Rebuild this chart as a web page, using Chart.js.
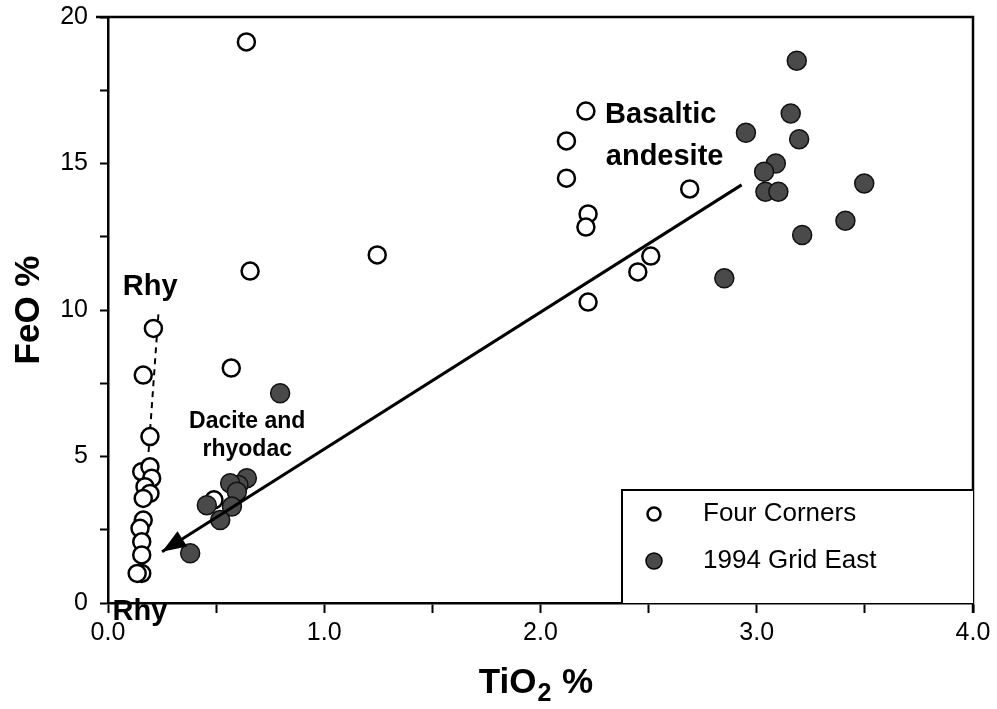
<!DOCTYPE html>
<html>
<head>
<meta charset="utf-8">
<script src="https://cdn.jsdelivr.net/npm/chart.js@4.4.0/dist/chart.umd.min.js"></script>
<style>
  body { margin: 0; background: #fff; }
  canvas { display: block; }
</style>
</head>
<body>
<canvas id="chart" width="997" height="709"></canvas>
<script>
// Four Corners (cercles ouverts)
var fourCornersX = [0.64, 2.21, 2.12, 2.12, 2.69, 2.22, 2.21, 1.245, 2.51, 0.657, 2.45, 2.22, 0.57,
    0.21, 0.163, 0.194, 0.156, 0.194, 0.202, 0.171, 0.194, 0.163, 0.163, 0.148, 0.156, 0.156, 0.156, 0.135, 0.49];
var fourCornersY = [19.15, 16.79, 15.77, 14.5, 14.13, 13.28, 12.83, 11.88, 11.84, 11.33, 11.3, 10.27, 8.02,
    9.37, 7.78, 5.68, 4.48, 4.65, 4.26, 3.97, 3.74, 3.57, 2.83, 2.55, 2.09, 1.64, 1.01, 1.01, 3.52];

// 1994 Grid East (cercles pleins)
var gridEastX = [3.185, 3.157, 2.95, 3.196, 3.088, 3.034, 3.04, 3.10, 3.497, 3.41, 3.21, 2.85,
    0.796, 0.642, 0.603, 0.565, 0.596, 0.457, 0.573, 0.519, 0.38];
var gridEastY = [18.51, 16.71, 16.05, 15.83, 15.0, 14.72, 14.04, 14.04, 14.32, 13.05, 12.56, 11.08,
    7.16, 4.26, 4.03, 4.09, 3.80, 3.34, 3.29, 2.83, 1.70];

// Tendance (flèche) et ligne pointillée des rhyolites
var trendX = [2.93, 0.25];
var trendY = [14.27, 1.75];
var rhyLineX = [0.233, 0.187];
var rhyLineY = [9.85, 5.1];

// Ticks
var xTickLabels = ['0.0', '1.0', '2.0', '3.0', '4.0'];
var yTickLabels = ['0', '5', '10', '15', '20'];

function toPoints(xs, ys) {
    return xs.map(function (x, i) { return { x: x, y: ys[i] }; });
}

var FONT = '"Liberation Sans", Arial, Helvetica, sans-serif';

// Textes, flèche, cadre et légende
var decorPlugin = {
    id: 'decor',
    afterDatasetsDraw: function (chart) {
        var ctx = chart.ctx;
        var xs = chart.scales.x, ys = chart.scales.y;
        var area = chart.chartArea;
        ctx.save();

        // cadre
        ctx.strokeStyle = '#000';
        ctx.lineWidth = 2.5;
        ctx.beginPath();
        ctx.moveTo(area.left - 12, area.top);
        ctx.lineTo(area.right, area.top);
        ctx.lineTo(area.right, area.bottom + 10);
        ctx.stroke();

        // pointe de flèche
        var meta = chart.getDatasetMeta(2);
        var p0 = meta.data[0], p1 = meta.data[1];
        var ang = Math.atan2(p1.y - p0.y, p1.x - p0.x);
        var len = 24, half = 9;
        ctx.fillStyle = '#000';
        ctx.beginPath();
        ctx.moveTo(p1.x, p1.y);
        ctx.lineTo(p1.x - len * Math.cos(ang) + half * Math.sin(ang), p1.y - len * Math.sin(ang) - half * Math.cos(ang));
        ctx.lineTo(p1.x - len * Math.cos(ang) - half * Math.sin(ang), p1.y - len * Math.sin(ang) + half * Math.cos(ang));
        ctx.closePath();
        ctx.fill();

        // annotations
        ctx.fillStyle = '#000';
        ctx.textAlign = 'center';
        ctx.textBaseline = 'middle';
        ctx.font = 'bold 29px ' + FONT;
        ctx.fillText('Rhy', xs.getPixelForValue(0.195), ys.getPixelForValue(10.8));
        ctx.fillText('Rhy', xs.getPixelForValue(0.148), ys.getPixelForValue(-0.32));
        ctx.font = 'bold 23px ' + FONT;
        ctx.fillText('Dacite and', xs.getPixelForValue(0.644), ys.getPixelForValue(6.18));
        ctx.fillText('rhyodac', xs.getPixelForValue(0.644), ys.getPixelForValue(5.22));
        ctx.font = 'bold 29px ' + FONT;
        ctx.fillText('Basaltic', xs.getPixelForValue(2.556), ys.getPixelForValue(16.66));
        ctx.fillText('andesite', xs.getPixelForValue(2.574), ys.getPixelForValue(15.22));

        // titre de l'axe x avec indice
        ctx.textAlign = 'left';
        ctx.textBaseline = 'alphabetic';
        ctx.font = 'bold 35px ' + FONT;
        var cx = 535;
        var w1 = ctx.measureText('TiO').width;
        ctx.font = 'bold 25px ' + FONT;
        var w2 = ctx.measureText('2').width;
        ctx.font = 'bold 35px ' + FONT;
        var w3 = ctx.measureText(' %').width;
        var sx = cx - (w1 + w2 + w3) / 2;
        ctx.fillText('TiO', sx, 693);
        ctx.font = 'bold 25px ' + FONT;
        ctx.fillText('2', sx + w1 + 1, 701);
        ctx.font = 'bold 35px ' + FONT;
        ctx.fillText(' %', sx + w1 + w2 + 2, 693);

        // légende
        var lx = 622, ly = 490;
        ctx.fillStyle = '#fff';
        ctx.fillRect(lx, ly, area.right - lx, area.bottom - ly);
        ctx.strokeStyle = '#000';
        ctx.lineWidth = 2;
        ctx.beginPath();
        ctx.moveTo(lx, area.bottom);
        ctx.lineTo(lx, ly);
        ctx.lineTo(area.right, ly);
        ctx.stroke();

        ctx.beginPath();
        ctx.arc(654, 514, 6.5, 0, Math.PI * 2);
        ctx.lineWidth = 2.5;
        ctx.stroke();
        ctx.beginPath();
        ctx.arc(654, 561, 8, 0, Math.PI * 2);
        ctx.fillStyle = '#4a4a4a';
        ctx.fill();
        ctx.lineWidth = 1.5;
        ctx.stroke();

        ctx.fillStyle = '#000';
        ctx.textAlign = 'left';
        ctx.textBaseline = 'middle';
        ctx.font = '26px ' + FONT;
        ctx.fillText('Four Corners', 703, 514);
        ctx.fillText('1994 Grid East', 703, 561);

        ctx.restore();
    }
};

var ctx = document.getElementById('chart').getContext('2d');

var myChart = new Chart(ctx, {
    type: 'scatter',
    data: {
        datasets: [{
            label: 'Four Corners',
            data: toPoints(fourCornersX, fourCornersY),
            pointRadius: 8.5,
            pointBackgroundColor: '#fff',
            pointBorderColor: '#000',
            pointBorderWidth: 2.5,
            order: 2
        }, {
            label: '1994 Grid East',
            data: toPoints(gridEastX, gridEastY),
            pointRadius: 9.5,
            pointBackgroundColor: '#4a4a4a',
            pointBorderColor: '#111',
            pointBorderWidth: 1.5,
            order: 1
        }, {
            label: 'trend',
            data: toPoints(trendX, trendY),
            showLine: true,
            borderColor: '#000',
            borderWidth: 3,
            pointRadius: 0,
            order: 0
        }, {
            label: 'rhy',
            data: toPoints(rhyLineX, rhyLineY),
            showLine: true,
            borderColor: '#000',
            borderWidth: 2,
            borderDash: [6, 5],
            pointRadius: 0,
            order: 3
        }]
    },
    options: {
        responsive: false,
        animation: false,
        devicePixelRatio: 1,
        layout: { autoPadding: false, padding: { top: 17, right: 24, left: 0, bottom: 0 } },
        plugins: {
            legend: { display: false },
            tooltip: { enabled: false }
        },
        scales: {
            x: {
                type: 'linear',
                min: 0, max: 4,
                afterFit: function (scale) {
                    scale.height = 106;
                    scale.paddingLeft = 0;
                    scale.paddingRight = 0;
                },
                ticks: {
                    stepSize: 0.5,
                    padding: 5,
                    color: '#000',
                    font: { family: FONT, size: 25 },
                    maxRotation: 0,
                    autoSkip: false,
                    callback: function (v) {
                        return Number.isInteger(v) ? xTickLabels[v] : '';
                    }
                },
                grid: { drawOnChartArea: false, color: '#000', tickLength: 10, tickWidth: 2 },
                border: { color: '#000', width: 2.5 }
            },
            y: {
                min: 0, max: 20,
                afterFit: function (scale) {
                    scale.width = 108;
                    scale.paddingTop = 0;
                    scale.paddingBottom = 0;
                },
                ticks: {
                    stepSize: 2.5,
                    padding: 12,
                    color: '#000',
                    font: { family: FONT, size: 25 },
                    autoSkip: false,
                    callback: function (v) {
                        return v % 5 === 0 ? yTickLabels[v / 5] : '';
                    }
                },
                grid: { drawOnChartArea: false, color: '#000', tickLength: 8, tickWidth: 2 },
                border: { color: '#000', width: 2.5 },
                title: {
                    display: true,
                    text: 'FeO %',
                    color: '#000',
                    font: { family: FONT, size: 35, weight: 'bold' },
                    padding: { top: 8, bottom: 0 }
                }
            }
        }
    },
    plugins: [decorPlugin]
});
</script>
</body>
</html>
